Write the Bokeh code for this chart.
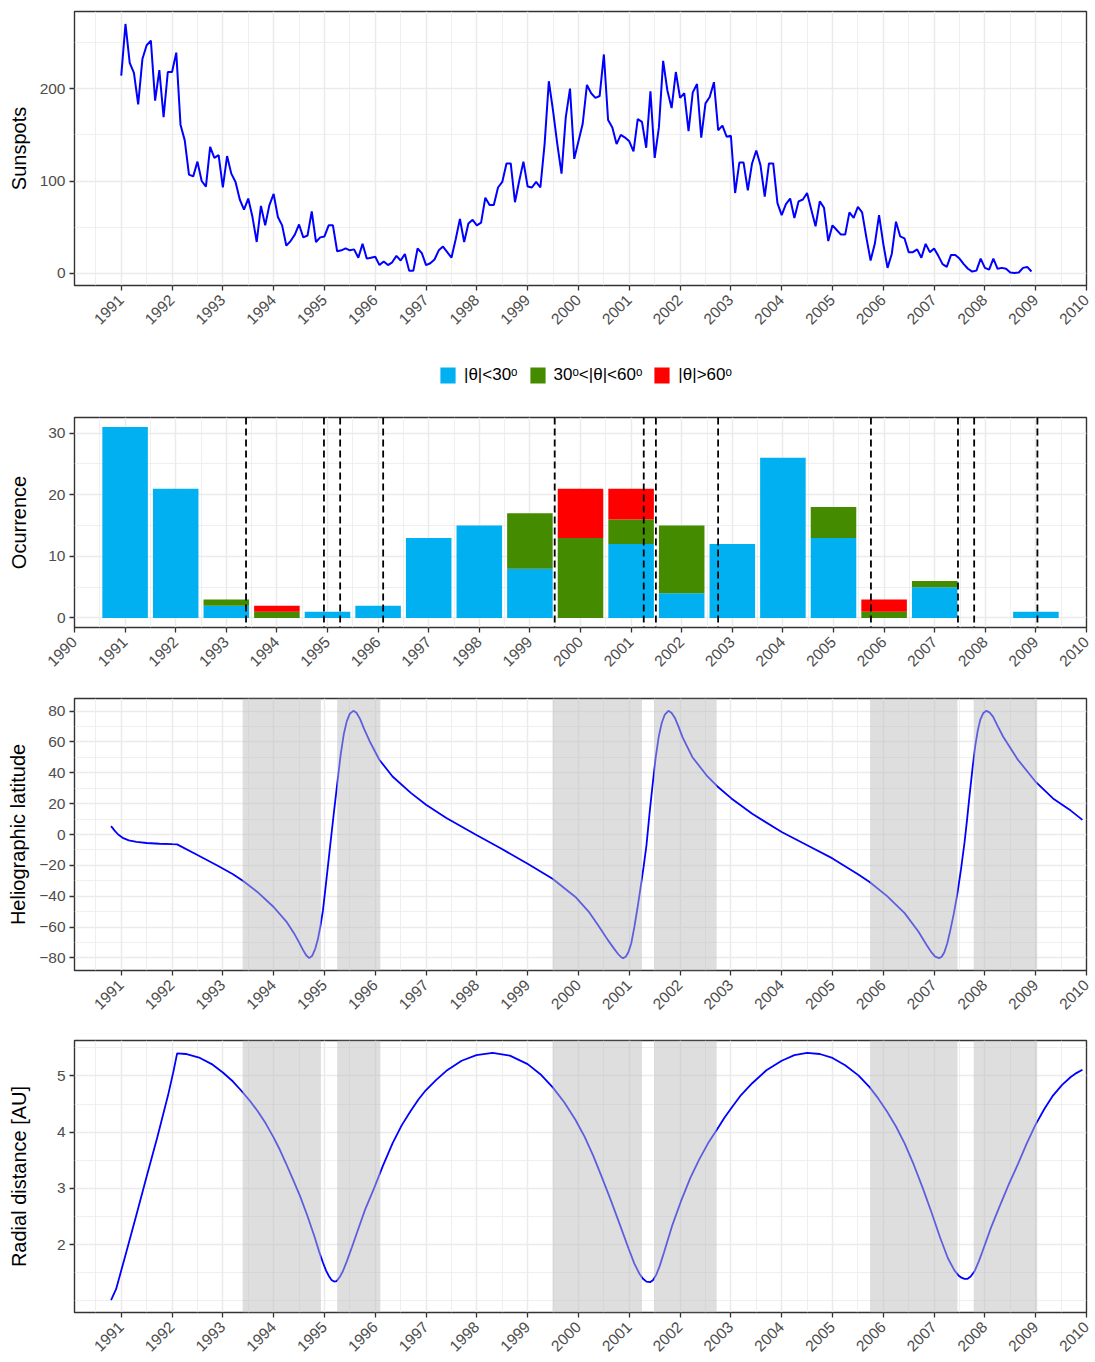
import math
from bokeh.plotting import figure
from bokeh.models import ColumnDataSource, FixedTicker, Span, Legend, LegendItem, Range1d, BoxAnnotation
from bokeh.layouts import column
from bokeh.embed import file_html
from bokeh.resources import INLINE

FONT = "Liberation Sans"

# ---- monthly sunspot number, Jan 1991 .. Dec 2008 ----
ss_first_year = 1991
sunspots = [
    214, 270, 228, 217, 183, 232, 247, 252, 187, 220, 169, 218,   # 1991
    218, 239, 161, 144, 107, 105, 121, 100, 94, 137, 125, 128,    # 1992
    93, 127, 108, 99, 80, 69, 81, 61, 34, 73, 52, 74,             # 1993
    86, 61, 52, 30, 35, 42, 53, 39, 41, 67, 34, 39,               # 1994
    40, 52, 52, 24, 25, 27, 25, 26, 17, 32, 16, 17,               # 1995
    18, 9, 13, 9, 12, 19, 14, 21, 3, 3, 27, 22,                   # 1996
    9, 11, 15, 25, 29, 23, 17, 37, 59, 34, 54, 58,                # 1997
    52, 55, 82, 74, 74, 93, 99, 119, 119, 77, 100, 121,           # 1998
    94, 93, 99, 93, 140, 208, 176, 140, 108, 169, 200, 124,       # 1999
    143, 162, 204, 195, 190, 192, 237, 166, 158, 140, 150, 147,   # 2000
    143, 132, 167, 164, 136, 197, 125, 158, 230, 198, 179, 218,   # 2001
    190, 195, 154, 196, 205, 147, 184, 191, 207, 155, 160, 148,   # 2002
    149, 87, 120, 120, 90, 119, 133, 117, 83, 119, 119, 76,       # 2003
    63, 75, 81, 60, 78, 80, 87, 69, 51, 78, 71, 35,               # 2004
    52, 47, 42, 42, 66, 60, 72, 66, 39, 14, 32, 63,               # 2005
    32, 6, 21, 56, 40, 38, 23, 23, 26, 17, 32, 23,                # 2006
    27, 19, 10, 7, 20, 20, 16, 10, 5, 2, 3, 16,                   # 2007
    6, 4, 16, 5, 6, 5, 1, 0.4, 1, 6, 7, 2,                        # 2008
]
ss_time = [ss_first_year + i / 12 for i in range(len(sunspots))]

# ---- yearly event counts split by latitude band ----
years = list(range(1991, 2010))
count_low = [31, 21, 2, 0, 1, 2, 13, 15, 8, 0, 12, 4, 12, 26, 13, 0, 5, 0, 1]
count_mid = [0, 0, 1, 1, 0, 0, 0, 0, 9, 13, 4, 11, 0, 0, 5, 1, 1, 0, 0]
count_high = [0, 0, 0, 1, 0, 0, 0, 0, 0, 8, 5, 0, 0, 0, 0, 2, 0, 0, 0]

band_labels = ["|\u03b8|<30\u1d52", "30\u1d52<|\u03b8|<60\u1d52", "|\u03b8|>60\u1d52"]
band_colors = ["#00B0F0", "#458B00", "#FF0000"]

# ---- high-latitude intervals of the orbit ----
pass_start = [1993.39, 1995.25, 1999.49, 2001.49, 2005.74, 2007.78]
pass_end = [1994.93, 1996.10, 2001.25, 2002.72, 2007.46, 2009.03]

# ---- spacecraft heliographic latitude (deg) ----
lat_time = [
    1990.80, 1990.87, 1990.94, 1991.04, 1991.15, 1991.30, 1991.50, 1991.75, 1992.00, 1992.10,
    1992.50, 1992.90, 1993.20, 1993.40, 1993.70, 1994.00, 1994.25, 1994.40, 1994.50, 1994.58,
    1994.64, 1994.70, 1994.76, 1994.82, 1994.87, 1994.92, 1994.97, 1995.04, 1995.11, 1995.18,
    1995.25, 1995.32, 1995.38, 1995.44, 1995.50, 1995.57, 1995.63, 1995.70, 1995.78, 1995.89,
    1996.08, 1996.34, 1996.70, 1997.00, 1997.40, 1998.00, 1998.45, 1999.00, 1999.49, 1999.94,
    2000.20, 2000.40, 2000.58, 2000.70, 2000.78, 2000.84, 2000.88, 2000.93, 2000.98, 2001.04,
    2001.10, 2001.16, 2001.22, 2001.28, 2001.34, 2001.40, 2001.46, 2001.52, 2001.58, 2001.64,
    2001.70, 2001.77, 2001.83, 2001.90, 2001.97, 2002.05, 2002.24, 2002.52, 2002.73, 2003.01,
    2003.42, 2004.00, 2004.54, 2005.00, 2005.51, 2005.73, 2006.07, 2006.42, 2006.69, 2006.85,
    2006.95, 2007.02, 2007.10, 2007.15, 2007.20, 2007.26, 2007.32, 2007.39, 2007.46, 2007.53,
    2007.60, 2007.65, 2007.70, 2007.76, 2007.81, 2007.86, 2007.91, 2007.97, 2008.03, 2008.09,
    2008.16, 2008.25, 2008.36, 2008.64, 2008.99, 2009.34, 2009.69, 2009.92]
latitude = [
    5.4, 2.5, 0.0, -2.4, -3.8, -4.8, -5.5, -6.0, -6.3, -6.4,
    -13.3, -20.3, -25.8, -30.2, -37.8, -47.0, -56.5, -64.0, -70.0, -75.0,
    -78.3, -80.2, -78.6, -74.0, -68.0, -59.5, -49.4, -29.0, -8.0, 12.5,
    32.5, 52.0, 65.0, 73.5, 78.4, 80.2, 79.0, 75.0, 68.5, 60.5,
    48.5, 37.6, 27.0, 19.3, 10.7, -0.5, -8.6, -19.0, -28.7, -40.5,
    -50.0, -59.5, -68.5, -74.0, -77.5, -79.6, -80.2, -79.3, -76.5, -70.5,
    -60.0, -48.0, -35.0, -21.5, -6.5, 14.0, 32.5, 50.0, 63.5, 72.5,
    77.8, 80.2, 79.0, 75.5, 70.0, 63.0, 50.3, 38.4, 31.3, 23.4,
    13.4, 1.6, -7.6, -15.5, -26.0, -30.8, -39.8, -51.0, -62.9, -71.5,
    -76.5, -79.2, -80.2, -79.3, -76.5, -70.5, -62.0, -51.0, -38.0, -22.5,
    -5.0, 10.0, 26.0, 44.0, 57.5, 67.5, 74.5, 78.8, 80.2, 79.2,
    76.5, 70.5, 63.4, 48.9, 34.5, 23.4, 15.5, 9.5]

# ---- spacecraft heliocentric distance (AU) ----
rad_time = [
    1990.80, 1990.90, 1991.08, 1991.29, 1991.50, 1991.71, 1991.92, 1992.03, 1992.10, 1992.27,
    1992.55, 1992.80, 1993.00, 1993.20, 1993.36, 1993.52, 1993.68, 1993.84, 1993.99, 1994.12,
    1994.24, 1994.38, 1994.52, 1994.66, 1994.80, 1994.90, 1994.97, 1995.03, 1995.08, 1995.14,
    1995.19, 1995.24, 1995.30, 1995.36, 1995.44, 1995.54, 1995.64, 1995.80, 1995.99, 1996.15,
    1996.34, 1996.52, 1996.70, 1996.85, 1996.99, 1997.20, 1997.40, 1997.70, 1997.99, 1998.31,
    1998.65, 1999.00, 1999.25, 1999.49, 1999.72, 1999.94, 2000.12, 2000.29, 2000.46, 2000.64,
    2000.82, 2000.99, 2001.10, 2001.20, 2001.27, 2001.34, 2001.41, 2001.47, 2001.53, 2001.60,
    2001.68, 2001.85, 2002.03, 2002.20, 2002.38, 2002.55, 2002.73, 2002.87, 2003.01, 2003.20,
    2003.42, 2003.70, 2004.00, 2004.25, 2004.50, 2004.75, 2005.00, 2005.25, 2005.51, 2005.73,
    2005.90, 2006.07, 2006.25, 2006.42, 2006.60, 2006.77, 2006.95, 2007.12, 2007.27, 2007.40,
    2007.48, 2007.54, 2007.60, 2007.66, 2007.72, 2007.80, 2007.88, 2007.95, 2008.12, 2008.30,
    2008.47, 2008.65, 2008.82, 2008.99, 2009.17, 2009.34, 2009.52, 2009.69, 2009.80, 2009.92]
radius = [
    1.01, 1.21, 1.80, 2.50, 3.21, 3.91, 4.65, 5.09, 5.40, 5.39,
    5.32, 5.20, 5.06, 4.90, 4.74, 4.57, 4.38, 4.16, 3.92, 3.69,
    3.45, 3.16, 2.86, 2.52, 2.15, 1.86, 1.68, 1.54, 1.45, 1.37,
    1.34, 1.35, 1.42, 1.52, 1.70, 1.95, 2.21, 2.62, 3.03, 3.40,
    3.80, 4.12, 4.38, 4.58, 4.74, 4.93, 5.09, 5.27, 5.37, 5.41,
    5.36, 5.21, 5.03, 4.80, 4.53, 4.22, 3.92, 3.58, 3.20, 2.78,
    2.34, 1.92, 1.66, 1.48, 1.39, 1.34, 1.33, 1.37, 1.46, 1.62,
    1.85, 2.35, 2.80, 3.18, 3.52, 3.80, 4.05, 4.25, 4.43, 4.66,
    4.87, 5.10, 5.27, 5.37, 5.41, 5.39, 5.32, 5.19, 5.01, 4.80,
    4.60, 4.37, 4.10, 3.80, 3.42, 3.02, 2.57, 2.12, 1.76, 1.54,
    1.45, 1.41, 1.39, 1.39, 1.43, 1.53, 1.70, 1.87, 2.30, 2.70,
    3.07, 3.43, 3.79, 4.12, 4.41, 4.65, 4.84, 4.98, 5.05, 5.11]

GRID = "#EBEBEB"
INK = "#333333"
TICK_TXT = "#4D4D4D"


def half_steps(lo, hi):
    return [lo + 0.5 + k for k in range(int(hi - lo))]


def make_fig(height, top, bottom, x_range, y_range):
    p = figure(width=1095, height=height, output_backend="svg", toolbar_location=None,
               x_range=x_range, y_range=y_range,
               min_border_left=74, min_border_right=9,
               min_border_top=top, min_border_bottom=bottom)
    p.background_fill_color = "white"
    p.border_fill_color = "white"
    p.outline_line_color = INK
    p.outline_line_width = 1.4
    return p


def style_axes(p, xticks, xminor, yticks, yminor, ylabel, standoff, yover=None):
    p.xaxis.ticker = FixedTicker(ticks=xticks, minor_ticks=xminor)
    p.yaxis.ticker = FixedTicker(ticks=yticks, minor_ticks=yminor)
    for g in (p.xgrid, p.ygrid):
        g.grid_line_color = GRID
        g.grid_line_width = 1.5
        g.minor_grid_line_color = GRID
        g.minor_grid_line_width = 0.8
    for ax in (p.xaxis, p.yaxis):
        ax.axis_line_color = None
        ax.major_tick_line_color = INK
        ax.major_tick_line_width = 1.3
        ax.major_tick_out = 5
        ax.major_tick_in = 0
        ax.minor_tick_line_color = None
        ax.major_label_text_font = FONT
        ax.major_label_text_font_size = "15.5px"
        ax.major_label_text_color = TICK_TXT
    p.xaxis.major_label_orientation = math.pi / 4
    p.xaxis.major_label_standoff = 7
    p.yaxis.major_label_standoff = 4
    p.yaxis.axis_label = ylabel
    p.yaxis.axis_label_text_font = FONT
    p.yaxis.axis_label_text_font_size = "20px"
    p.yaxis.axis_label_text_font_style = "normal"
    p.yaxis.axis_label_text_color = "black"
    p.yaxis.axis_label_standoff = standoff
    if yover:
        p.yaxis.major_label_overrides = yover


year_ticks_a = list(range(1991, 2011))
year_ticks_b = list(range(1990, 2011))
year_minor = half_steps(1990, 2010)

# ---- panel 1: sunspots ----
p1 = make_fig(345, 11, 60, Range1d(1990.08, 2010), Range1d(-13.1, 283.5))
p1.line(ss_time, sunspots, line_color="blue", line_width=2)
style_axes(p1, year_ticks_a, year_minor, [0, 100, 200], [50, 150, 250], "Sunspots", 7)

# ---- legend strip for the latitude bands ----
pk = figure(width=1095, height=55, output_backend="svg", toolbar_location=None,
            x_axis_type=None, y_axis_type=None, x_range=Range1d(0, 1), y_range=Range1d(0, 1),
            min_border=0)
pk.outline_line_color = None
pk.background_fill_color = "white"
pk.border_fill_color = "white"
# zero-height proxies: they only supply the legend swatches
key_src = ColumnDataSource(dict(x=[0.5], bottom=[0.0], top=[0.0]))
keys = [pk.vbar(x="x", bottom="bottom", top="top", width=0.01, fill_color=c,
                line_color=None, source=key_src)
        for c in band_colors]
legend = Legend(items=[LegendItem(label=lab, renderers=[r]) for lab, r in zip(band_labels, keys)],
                orientation="horizontal", location=(364, 15), padding=0, margin=0,
                spacing=10, label_standoff=7, glyph_width=19, glyph_height=20,
                label_height=20, border_line_color=None, background_fill_alpha=0,
                label_text_font=FONT, label_text_font_size="17px", label_text_color="black")
pk.add_layout(legend)

# ---- panel 2: stacked yearly counts ----
src = ColumnDataSource(dict(year=years, low=count_low, mid=count_mid, high=count_high))
p2 = make_fig(287, 17, 60, Range1d(1990, 2010), Range1d(-1.55, 32.55))
p2.vbar_stack(["low", "mid", "high"], x="year", width=0.9, color=band_colors,
              line_color=None, source=src)
for edge in pass_start + pass_end:
    p2.add_layout(Span(location=edge, dimension="height", line_color="black",
                       line_width=1.8, line_dash="7 4"))
style_axes(p2, year_ticks_b, year_minor, [0, 10, 20, 30], [5, 15, 25], "Ocurrence", 15)

# ---- panel 3: latitude ----
p3 = make_fig(343, 11, 60, Range1d(1990.08, 2010), Range1d(-88.2, 88.2))
p3.line(lat_time, latitude, line_color="blue", line_width=1.8)
for s, e in zip(pass_start, pass_end):
    p3.add_layout(BoxAnnotation(left=s, right=e, fill_color="#BEBEBE", fill_alpha=0.5,
                                line_color=None))
lat_major = list(range(-80, 81, 20))
style_axes(p3, year_ticks_a, year_minor, lat_major, list(range(-70, 71, 20)),
           "Heliographic latitude", 7,
           {v: (("\u2212" + str(-v)) if v < 0 else str(v)) for v in lat_major})

# ---- panel 4: radial distance ----
p4 = make_fig(332, 10, 50, Range1d(1990.08, 2010), Range1d(0.79, 5.63))
p4.line(rad_time, radius, line_color="blue", line_width=1.8)
for s, e in zip(pass_start, pass_end):
    p4.add_layout(BoxAnnotation(left=s, right=e, fill_color="#BEBEBE", fill_alpha=0.5,
                                line_color=None))
style_axes(p4, year_ticks_a, year_minor, [2, 3, 4, 5], [1.0, 1.5, 2.5, 3.5, 4.5, 5.5],
           "Radial distance [AU]", 24)

page = column(p1, pk, p2, p3, p4, spacing=0)
with open("out.html", "w") as f:
    f.write(file_html(page, INLINE))
